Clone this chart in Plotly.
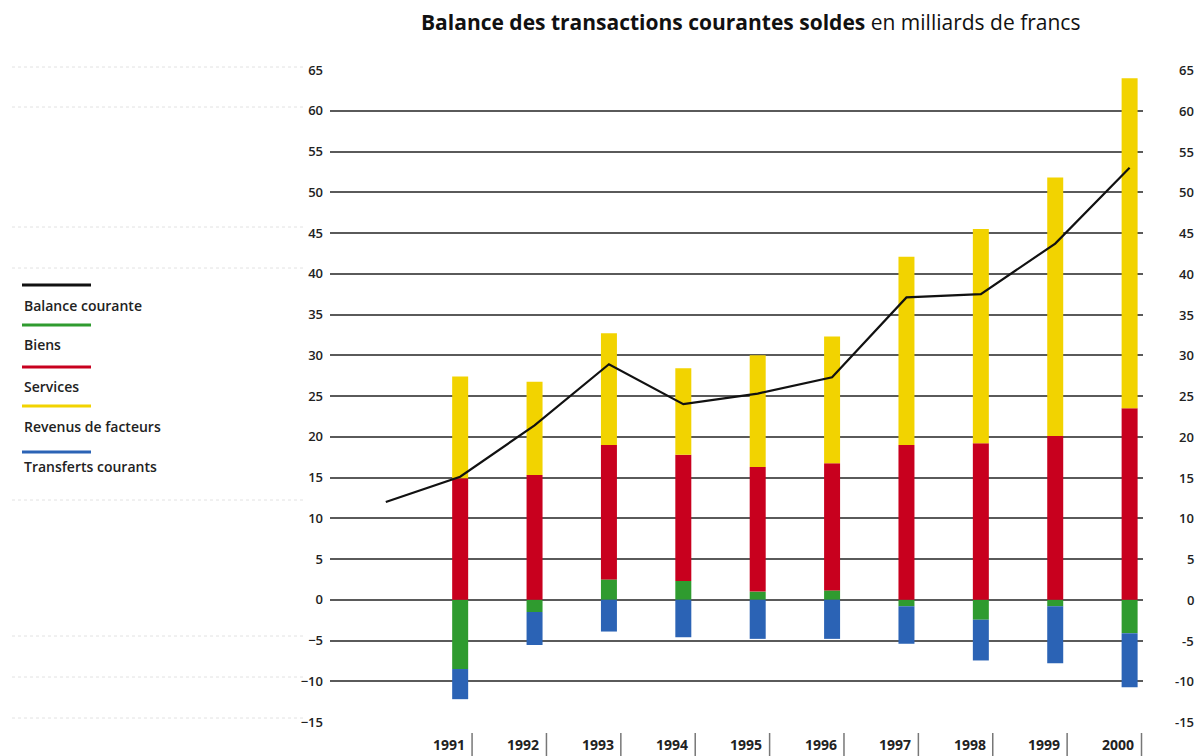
import plotly.graph_objects as go

# ---- data (milliards de francs) ----
years = [1991, 1992, 1993, 1994, 1995, 1996, 1997, 1998, 1999, 2000]
biens = [-8.5, -1.5, 2.5, 2.3, 1.0, 1.15, -0.8, -2.45, -0.8, -4.1]
services = [14.9, 15.3, 16.5, 15.5, 15.3, 15.6, 19.0, 19.2, 20.1, 23.5]
revenus = [12.5, 11.45, 13.7, 10.6, 13.7, 15.55, 23.1, 26.3, 31.7, 40.5]
transferts = [-3.7, -4.05, -3.9, -4.6, -4.8, -4.8, -4.6, -5.0, -7.0, -6.65]
balance_years = [1990, 1991, 1992, 1993, 1994, 1995, 1996, 1997, 1998, 1999, 2000]
balance = [12.0, 15.1, 21.4, 28.9, 24.0, 25.3, 27.3, 37.1, 37.5, 43.7, 53.0]
y_ticks = [65, 60, 55, 50, 45, 40, 35, 30, 25, 20, 15, 10, 5, 0, -5, -10, -15]

title_bold = "Balance des transactions courantes soldes"
title_rest = "en milliards de francs"
legend_names = ["Balance courante", "Biens", "Services", "Revenus de facteurs", "Transferts courants"]

# ---- styles ----
C_BLACK = "#111111"
C_GREEN = "#2F9B2F"
C_RED = "#C8001E"
C_YELLOW = "#F2D300"
C_BLUE = "#2B63B5"
FONT = "Open Sans, Liberation Sans, sans-serif"

OFF = 8  # page body margin
PAGE_W, PAGE_H = 1203, 756
W, H = PAGE_W - OFF, PAGE_H - OFF
PLOT_L, PLOT_R, PLOT_T, PLOT_B = 330, 1143, 70, 722  # in page pixels
L = PLOT_L - OFF
R = PAGE_W - PLOT_R
T = PLOT_T - OFF
B = PAGE_H - PLOT_B
PW, PH = PLOT_R - PLOT_L, PLOT_B - PLOT_T


def px_x(px):
    return (px - PLOT_L) / PW


def px_y(py):
    return (PLOT_B - py) / PH


bar_w = 0.215
fig = go.Figure()
for name, vals, col in [("Biens", biens, C_GREEN), ("Services", services, C_RED),
                        ("Revenus de facteurs", revenus, C_YELLOW),
                        ("Transferts courants", transferts, C_BLUE)]:
    fig.add_trace(go.Bar(x=years, y=vals, name=name, width=bar_w,
                         marker=dict(color=col, line=dict(width=0)), showlegend=False))

fig.add_trace(go.Scatter(x=balance_years, y=balance, mode="lines", name="Balance courante",
                         line=dict(color=C_BLACK, width=2.2), showlegend=False))

annotations = []
shapes = []

# title
annotations.append(dict(text=f"<b>{title_bold}</b> {title_rest}", xref="paper", yref="paper",
                        x=px_x(750), y=px_y(22), xanchor="center", yanchor="middle",
                        showarrow=False, font=dict(family=FONT, size=21, color="#111")))

# right-hand tick labels
for v in y_ticks:
    annotations.append(dict(text=str(v), xref="paper", yref="y", x=px_x(1196), y=v,
                            xanchor="right", yanchor="middle", showarrow=False,
                            font=dict(family=FONT, size=13, color="#222", weight=600)))

# year labels with small separators
for yr in years:
    annotations.append(dict(text=str(yr), xref="x", yref="paper", x=yr + 0.09, y=px_y(745),
                            xanchor="right", yanchor="middle", showarrow=False,
                            font=dict(family=FONT, size=14, color="#222", weight=700)))
    shapes.append(dict(type="line", xref="x", yref="paper", x0=yr + 0.16, x1=yr + 0.16,
                       y0=px_y(733), y1=px_y(756), line=dict(color="#777", width=1.5)))

# faint dotted background lines on the left (page pixel rows)
for py in [67, 107, 227, 268, 500, 636, 677, 718]:
    shapes.append(dict(type="line", xref="paper", yref="paper", x0=px_x(12), x1=px_x(305),
                       y0=px_y(py), y1=px_y(py),
                       line=dict(color="#e2e2e2", width=1, dash="dot")))

# custom legend: coloured line above each label
leg_cols = [C_BLACK, C_GREEN, C_RED, C_YELLOW, C_BLUE]
leg_line_y = [285, 325, 367, 406, 452]
leg_text_y = [305, 344, 386, 426, 467]
for name, col, ly, ty in zip(legend_names, leg_cols, leg_line_y, leg_text_y):
    shapes.append(dict(type="line", xref="paper", yref="paper", x0=px_x(22), x1=px_x(91),
                       y0=px_y(ly), y1=px_y(ly), line=dict(color=col, width=3)))
    annotations.append(dict(text=name, xref="paper", yref="paper", x=px_x(22), y=px_y(ty),
                            xanchor="left", yanchor="middle", showarrow=False,
                            font=dict(family=FONT, size=14, color="#222", weight=600)))

fig.update_layout(
    width=W, height=H,
    margin=dict(l=L, r=R, t=T, b=B, autoexpand=False),
    barmode="relative",
    plot_bgcolor="white", paper_bgcolor="white",
    showlegend=False,
    annotations=annotations, shapes=shapes,
    xaxis=dict(range=[1989.25, 2000.18], showticklabels=False, showgrid=False,
               zeroline=False, showline=False, ticks=""),
    yaxis=dict(range=[-15, 65], tickvals=y_ticks, showgrid=True, gridcolor="#5a5a5a",
               gridwidth=1.6, zeroline=True, zerolinecolor="#5a5a5a", zerolinewidth=1.6,
               showline=False, ticks="", ticklabelstandoff=6,
               tickfont=dict(family=FONT, size=13, color="#222", weight=600)),
)

fig.write_html("out.html")
